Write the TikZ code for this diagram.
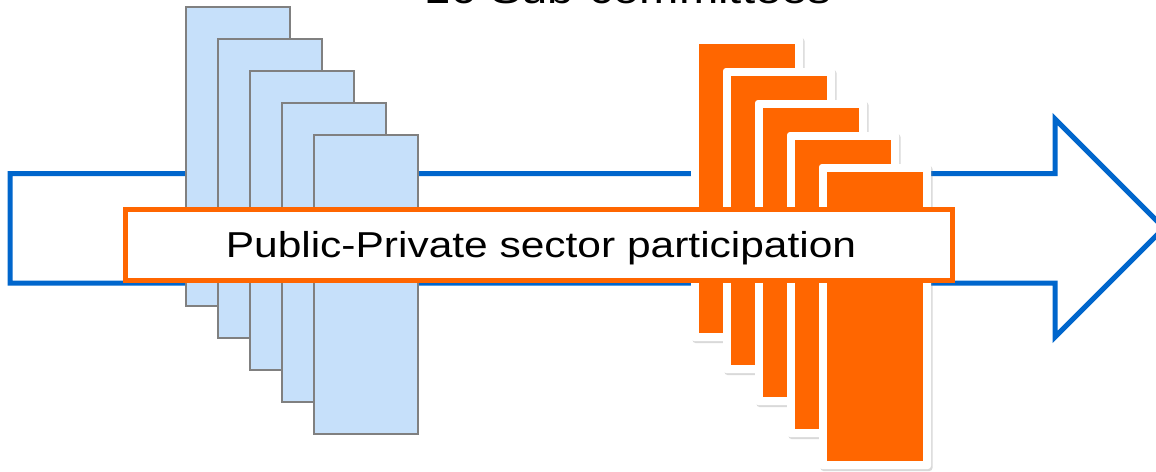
\documentclass[tikz,border=0pt]{standalone}
\usepackage{fontspec}
\setmainfont{Liberation Sans}
\usetikzlibrary{shadows}
\definecolor{arrowblue}{RGB}{0,102,204}
\definecolor{orng}{RGB}{255,102,0}
\definecolor{paleblue}{RGB}{198,224,250}
\definecolor{edgegray}{RGB}{128,128,128}
\begin{document}
\begin{tikzpicture}[x=1pt,y=-1pt,
  bigarrow/.style={draw=arrowblue, line width=5pt, fill=white, line join=miter},
  bluecard/.style={fill=paleblue, draw=edgegray, line width=1.5pt},
  cardframe/.style={fill=white, rounded corners=3pt,
    drop shadow={opacity=0.3, shadow xshift=1.5pt, shadow yshift=-2pt}},
  cardface/.style={fill=orng},
  labelbox/.style={draw=orng, line width=5pt, fill=white, inner sep=0pt,
    minimum width=827.5pt, minimum height=71pt},
  labeltext/.style={font=\fontsize{36}{43}\selectfont, anchor=base, inner sep=0pt, xscale=1.18},
  titletext/.style={font=\fontsize{40}{48}\selectfont, anchor=base, inner sep=0pt, xscale=1.18}]
\clip (0,0) rectangle (1156,471);
\node[titletext] (title) at (628,3) {16 Sub-committees};
\draw[bigarrow] (10,173.5) -- (1055,173.5) -- (1055,119) -- (1164,228)
  -- (1055,337) -- (1055,283) -- (10,283) -- cycle;
\foreach \i in {0,...,4}
  \draw[bluecard] ({186+32*\i},{7+32*\i}) rectangle ({290+32*\i},{306+32*\i});
\foreach \i in {0,...,4}{
  \fill[cardframe] ({691+32*\i},{36+32*\i}) rectangle ({803+32*\i},{341+32*\i});
  \fill[cardface] ({699+32*\i},{44+32*\i}) rectangle ({795+32*\i},{333+32*\i});
}
\node[labelbox] (box) at (538.75,244.5) {};
\node[labeltext] (label) at (541,257) {Public-Private sector participation};
\end{tikzpicture}
\end{document}
